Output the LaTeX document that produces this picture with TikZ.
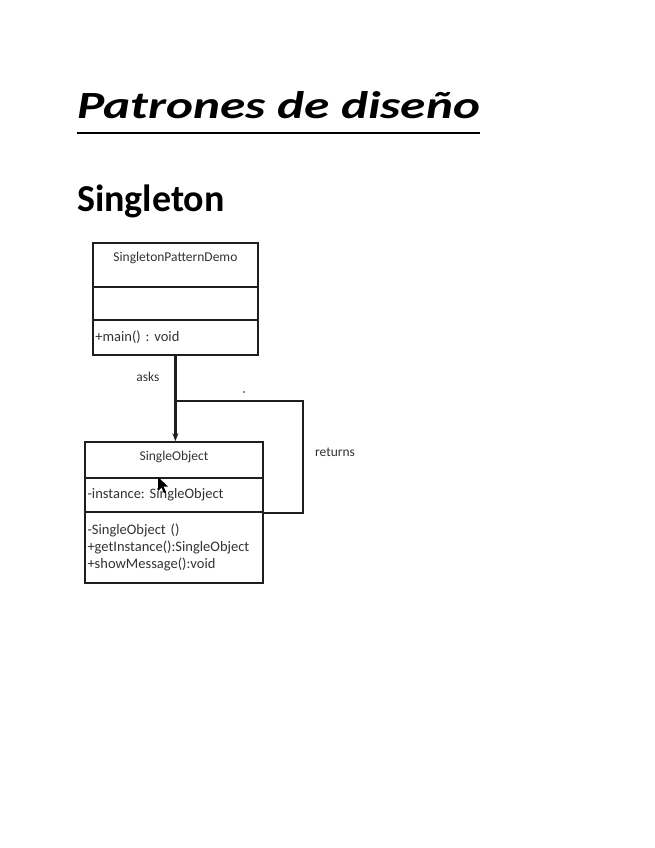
\documentclass[tikz,border=0pt]{standalone}
\usepackage{fontspec}
\setmainfont{Carlito}
\newfontfamily\headfont[FakeStretch=1.33]{Carlito}
\usepackage{tikz}
\usetikzlibrary{arrows.meta,positioning}
\definecolor{ink}{HTML}{1e1e1e}
\definecolor{umltext}{HTML}{333333}
\newcommand{\umlfont}{\fontsize{13.5}{15.5}\selectfont}
\newcommand{\memberfont}{\fontsize{14.5}{17}\selectfont}
\frenchspacing

\begin{document}
\begin{tikzpicture}[x=1pt, y=1pt,
  umlpart/.style={draw=ink, line width=1.7pt, inner xsep=2.5pt, inner ysep=0pt, text width=#1, align=left, font=\memberfont, text=umltext},
  umltitle/.style={inner sep=0pt, font=\umlfont, text=umltext},
  umllabel/.style={inner sep=0pt, font=\umlfont, text=umltext},
  umlline/.style={draw=ink, line width=1.8pt}]
\useasboundingbox[fill=white] (0,0) rectangle (655,-848);
% headings
\node[anchor=base west, inner sep=0pt, font=\headfont\fontsize{38.5}{46}\selectfont\bfseries\itshape] (title) at (77,-119) {Patrones de diseño};
\draw[line width=2.4pt] ([yshift=-14pt]title.base west) -- ([yshift=-14pt]title.base east);
\node[anchor=base west, inner sep=0pt, font=\fontsize{38}{46}\selectfont\bfseries] (subtitle) at (77,-211) {Singleton};
% SingletonPatternDemo class
\node[umlpart=160pt, minimum height=44pt] (demoname) at (175.4,-265) {};
\node[umlpart=160pt, minimum height=33pt] (demoattr) at (175.4,-303.5) {};
\node[umlpart=160pt, minimum height=35pt] (demoops) at (175.4,-337.5) {+main() : void};
\node[umltitle, below=10pt of demoname.north] (demotitle) {SingletonPatternDemo};
% SingleObject class
\node[umlpart=173pt, minimum height=36pt] (objname) at (174,-460) {};
\node[umlpart=173pt, minimum height=34pt] (objattr) at (174,-495) {-instance: SingleObject};
\node[umlpart=173pt, minimum height=71pt] (objops) at (174,-547.5) {-SingleObject ()\\+getInstance():SingleObject\\+showMessage():void};
\node[umltitle, below=10pt of objname.north] (objtitle) {SingleObject};
% connectors
\draw[umlline, line width=2.2pt, -{Stealth[length=8pt, width=6pt]}] (demoops.south) -- (demoops.south |- objname.north);
\coordinate (turn) at (303,-401);
\draw[umlline] (objattr.south east) -| (turn) -- (turn -| demoops.south);
\node[umllabel] (asks) at (148,-377) {asks};
\node[umllabel] (returns) at (335,-452) {returns};
\fill[ink] (244,-392) circle (0.9pt);
% mouse pointer
\fill[black] (158,-477) -- (158,-491) -- (161.5,-487.5) -- (164,-493) -- (166,-492) -- (163.5,-486.5) -- (168,-486.5) -- cycle;
\end{tikzpicture}
\end{document}
